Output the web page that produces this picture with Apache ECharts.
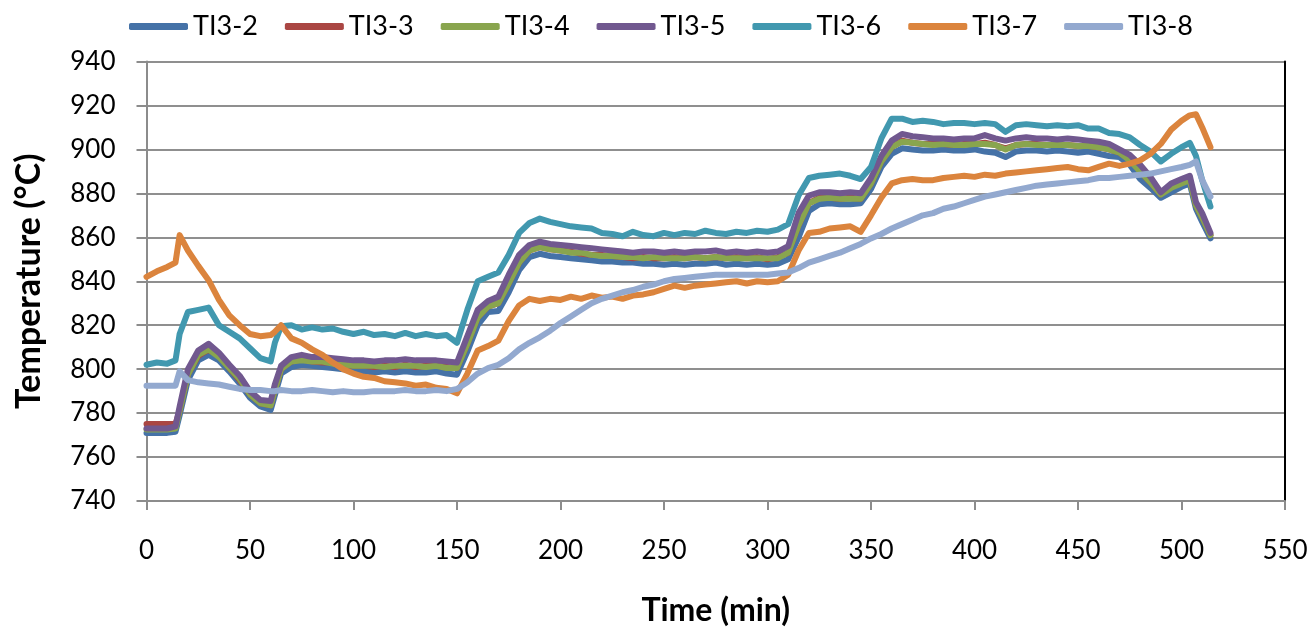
<!DOCTYPE html>
<html>
<head>
<meta charset="utf-8">
<script src="https://cdn.jsdelivr.net/npm/echarts@6/dist/echarts.min.js"></script>
<style>
html,body{margin:0;padding:0;background:#fff;}
#chart{width:1312px;height:632px;}
</style>
</head>
<body>
<div id="chart"></div>
<script>
const times = [0,5,10,14,16,20,25,30,35,40,45,50,55,60,62,65,70,75,80,85,90,95,100,105,110,115,120,125,130,135,140,145,150,155,160,165,170,175,180,185,190,195,200,205,210,215,220,225,230,235,240,245,250,255,260,265,270,275,280,285,290,295,300,305,310,315,320,325,330,335,340,345,350,355,360,365,370,375,380,385,390,395,400,405,410,415,420,425,430,435,440,445,450,455,460,465,470,475,480,485,490,495,500,504,507,510,514];

const seriesNames = ['TI3-2','TI3-3','TI3-4','TI3-5','TI3-6','TI3-7','TI3-8'];

const ti3_2 = [771,771,771,771.5,779,795,804,806.5,804,799,793.5,787,783,781.5,788,798,801,802,801.5,801,800.5,800,799,799,798.5,799,798.5,799,798.5,798.5,799,798,797.5,808,820,826,826.5,835,845,851,852.5,851.5,851,850.5,850,849.5,849,849,848.5,848.5,848,848,847.5,848,847.5,848,848,848.5,847.5,848,847.5,848,847.5,848,850,860,872,875,875.5,875,875,875.5,882,892,898,900.5,900,899.5,899.5,900,899.5,899.5,900,899,898.5,896.5,899,899.5,899.5,899,899.5,899,898.5,899,898,897,896.5,893,886.5,882.5,878,880.5,883,884.5,873,867,859.5];

const ti3_3 = [775,775,775,775,781,797.5,806,809,806,800.5,795,788.5,784.5,783.5,790.5,800,803.5,804.5,803.5,803,803,802,801.5,801.5,801,801.5,801,802,801,801.5,801.5,801,800.5,811.5,823.5,828.5,830,839,848.5,854,855.5,854.5,854,853.5,852.5,852,852,851.5,851,850.5,851,850.5,850.5,851,850.5,851,850.5,851,850.5,851,850.5,851,850,851,853,865.5,875.5,878,878,877.5,878,877.5,884.5,894.5,901,904,903,902.5,902.5,902.5,902,902.5,902.5,903,902,900.5,902,902.5,902.5,902,902,902,901.5,901.5,901,900,898.5,895.5,890,885,879.5,883,885,886.5,874.5,869,861];

const ti3_4 = [772.5,772.5,772.5,773,781,797.5,806.5,809,805.5,800.5,795.5,788.5,784.5,783.5,790.5,800,803.5,804,803.5,803.5,802.5,802,801.5,801.5,801.5,801,801.5,801.5,801.5,801,801.5,800.5,800.5,811.5,823.5,828.5,830,839,848.5,854,855.5,854.5,854,853,853,852,851.5,851.5,851,851,850.5,851,850.5,850.5,850.5,851,850.5,851,850.5,850.5,850.5,850.5,850.5,850.5,853,865.5,875.5,877.5,878,877.5,877.5,877.5,884.5,894.5,901,903.5,903,902.5,902,902.5,902,902,902.5,902.5,902,900,902,902.5,902,902,902,902,901.5,901.5,901,900,898.5,895,890,885,879.5,882.5,884.5,886,874.5,869,861];

const ti3_5 = [773,773,773,774,783,800,808.5,811.5,807.5,802,797,790,786,785.5,793,801.5,805.5,806.5,805.5,805.5,805,804.5,804,804,803.5,804,804,804.5,804,804,804,803.5,803,815,827,831,833,843,852,856.5,858,857,856.5,856,855.5,855,854.5,854,853.5,853,853.5,853.5,853,853.5,853,853.5,853.5,854,853,853.5,853,853.5,853,853.5,856,871,879,880.5,880.5,880,880.5,880,887,897,904,907,906,905.5,905,905,904.5,905,905,906.5,905,904,905,905.5,905,905,904.5,905,904.5,904,903.5,902.5,900,897.5,893,887.5,880.5,884.5,886.5,888,876,871,862];

const ti3_6 = [802,803,802.5,804,816,826,827,828,820,817,814,809.5,805,803.5,812,819.5,820,818,819,818,818.5,817,816,817,815.5,816,815,816.5,815,816,815,815.5,812,827,840,842,844,852,862,866.5,868.5,867,866,865,864.5,864,862,861.5,860.5,862.5,861,860.5,862,861,862,861.5,863,862,861.5,862.5,862,863,862.5,863.5,866,879,887,888,888.5,889,888,886.5,892,905,914,914,912.5,913,912.5,911.5,912,912,911.5,912,911.5,908,911,911.5,911,910.5,911,910.5,911,909.5,909.5,907.5,907,905.5,902,899,894.5,898,901,903,897,886,874];

const ti3_7 = [842,844.5,846.5,848.5,861,854,847,840.5,831.5,824.5,820,816,815,815.5,817,820,814,812,809,806.5,803,800,798,796.5,796,794.5,794,793.5,792.5,793,791.5,791,789,798,808.5,810.5,813,822,829,832,831,832,831.5,833,832,833.5,832.5,833,832,833.5,834,835,836.5,838,837,838,838.5,839,839.5,840,839,840,839.5,840,843,854,862,862.5,864,864.5,865,862.5,870,878,884.5,886,886.5,886,886,887,887.5,888,887.5,888.5,888,889,889.5,890,890.5,891,891.5,892,891,890.5,892,893.5,892.5,893.5,895,898,902.5,909,913,915.5,916,910,901];

const ti3_8 = [792.5,792.5,792.5,792.5,799,795,794,793.5,793,792,791,790.5,790.5,790,790,790.5,790,790,790.5,790,789.5,790,789.5,789.5,790,790,790,790.5,790,790,790.5,790,791,794,798,800.5,802,805,809,812,814.5,817.5,821,824,827,830,832,833.5,835,836,837.5,838.5,840,841,841.5,842,842.5,843,843,843,843,843,843,843.5,844,846,848.5,850,851.5,853,855,857,859.5,861.5,864,866,868,870,871,873,874,875.5,877,878.5,879.5,880.5,881.5,882.5,883.5,884,884.5,885,885.5,886,887,887,887.5,888,888.5,889,890,891,892,893,894.5,886,878.5];

const xTicks = [0,50,100,150,200,250,300,350,400,450,500,550];
const yTicks = [740,760,780,800,820,840,860,880,900,920,940];

const colors = ['#4572A7','#AA4643','#89A54E','#71588F','#4198AF','#DB843D','#93A9CF'];
const valueSets = [ti3_2, ti3_3, ti3_4, ti3_5, ti3_6, ti3_7, ti3_8];

const FONT = 'Lato, "Open Sans", sans-serif';

const chart = echarts.init(document.getElementById('chart'), null, {renderer:'canvas'});

const series = seriesNames.map((name, i) => ({
  name: name,
  type: 'line',
  data: times.map((t, j) => [t, valueSets[i][j]]),
  showSymbol: false,
  symbol: 'none',
  lineStyle: { width: 6, color: colors[i], cap: 'round', join: 'round' },
  itemStyle: { color: colors[i] },
  emphasis: { disabled: true },
  animation: false,
  z: 2 + i
}));

const option = {
  animation: false,
  color: colors,
  grid: { left: 146.5, right: 27, top: 61.5, bottom: 130, containLabel: false },
  legend: {
    data: seriesNames,
    left: 124,
    top: 8,
    icon: 'roundRect',
    itemWidth: 59,
    itemHeight: 7,
    itemGap: 27,
    textStyle: { fontFamily: FONT, fontSize: 27, color: '#000' }
  },
  xAxis: {
    type: 'value',
    min: xTicks[0],
    max: xTicks[xTicks.length - 1],
    interval: 50,
    name: 'Time (min)',
    nameLocation: 'middle',
    nameGap: 94,
    nameTextStyle: { fontFamily: FONT, fontSize: 32, fontWeight: 'bold', color: '#000' },
    axisLine: { show: true, onZero: false, lineStyle: { color: '#8c8c8c', width: 2 } },
    axisTick: { show: true, inside: false, length: 9, lineStyle: { color: '#8c8c8c', width: 2 } },
    axisLabel: { margin: 37, fontFamily: FONT, fontSize: 26, color: '#000' },
    splitLine: { show: false }
  },
  yAxis: [{
    type: 'value',
    min: yTicks[0],
    max: yTicks[yTicks.length - 1],
    interval: 20,
    name: 'Temperature (°C)',
    nameLocation: 'middle',
    nameGap: 100,
    nameRotate: 90,
    nameTextStyle: { fontFamily: FONT, fontSize: 34, fontWeight: 'bold', color: '#000' },
    axisLine: { show: true, lineStyle: { color: '#8c8c8c', width: 2 } },
    axisTick: { show: true, inside: false, length: 10, lineStyle: { color: '#8c8c8c', width: 2 } },
    axisLabel: { margin: 31, fontFamily: FONT, fontSize: 26, color: '#000' },
    splitLine: { show: true, lineStyle: { color: '#8f8f8f', width: 2 } }
  }, {
    type: 'value',
    position: 'right',
    min: yTicks[0],
    max: yTicks[yTicks.length - 1],
    interval: 20,
    axisLine: { show: true, lineStyle: { color: '#000', width: 2 } },
    axisTick: { show: false },
    axisLabel: { show: false },
    splitLine: { show: false }
  }],
  series: series
};

chart.setOption(option);
</script>
</body>
</html>
